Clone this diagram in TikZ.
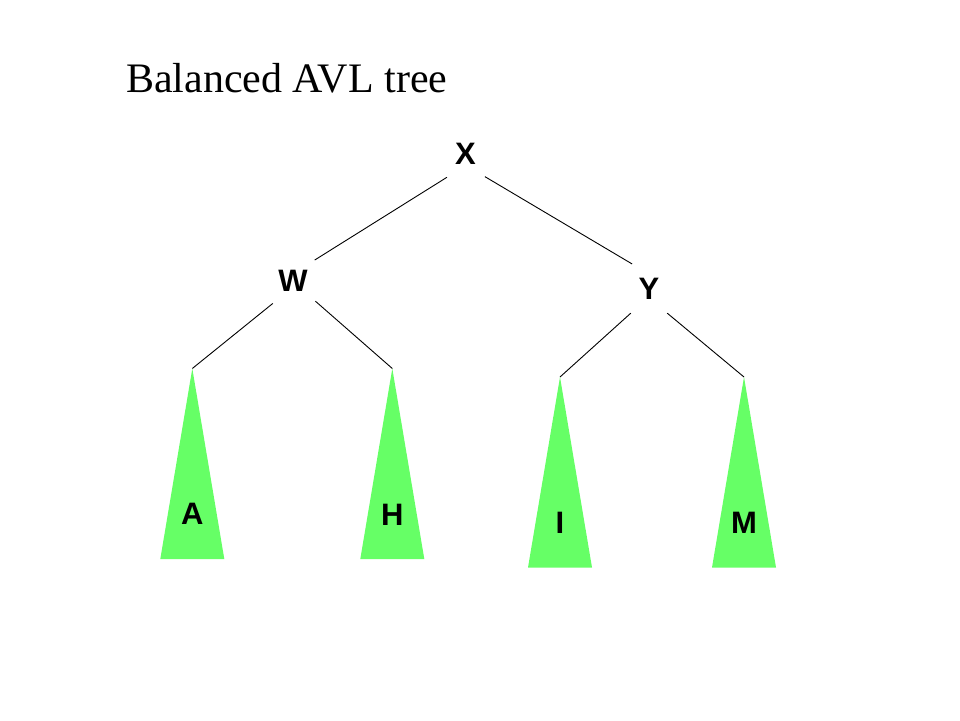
\documentclass[tikz,border=0pt]{standalone}
\usepackage{fontspec}
\setmainfont{Liberation Serif}
\newfontfamily\labelfont{Liberation Sans}
\usepackage{tikz}
\definecolor{leafgreen}{RGB}{102,255,102}
\tikzset{
  key/.style={circle,minimum size=60pt,inner sep=0pt,font=\labelfont\bfseries\fontsize{31}{33}\selectfont},
  leaf/.style={inner sep=0pt,font=\labelfont\bfseries\fontsize{31}{33}\selectfont},
  edge/.style={line width=0.9pt,black}
}
\newcommand{\subtree}[4]{
  \coordinate (top#1) at (#2,#3);
  \fill[leafgreen] (top#1)--++(-32,190.5)--++(64,0)--cycle;
  \node[leaf] (#1) at (#2,#4) {#1};
}

\begin{document}
\begin{tikzpicture}[x=1pt,y=-1pt]
\useasboundingbox (0,0) rectangle (960,720);
\node[anchor=base west,inner sep=0pt,font=\fontsize{42}{46}\selectfont] (title) at (126,92) {Balanced AVL tree};
\node[key] (X) at (465.5,153.5) {X};
    \node[key] (W) at (293,281) {W};
    \node[key] (Y) at (649,289) {Y};
\subtree{A}{192.3}{368.5}{514}\subtree{H}{392.3}{368.5}{515}\subtree{I}{560}{377}{523}\subtree{M}{744}{377}{523}
\draw[edge] (X.232) -- (W.44);
    \draw[edge] (X.310) -- (Y.124);
    \draw[edge] (W.228) -- (topA);
    \draw[edge] (W.318) -- (topH);
    \draw[edge] (Y.233) -- (topI);
    \draw[edge] (Y.307) -- (topM);
\end{tikzpicture}
\end{document}
